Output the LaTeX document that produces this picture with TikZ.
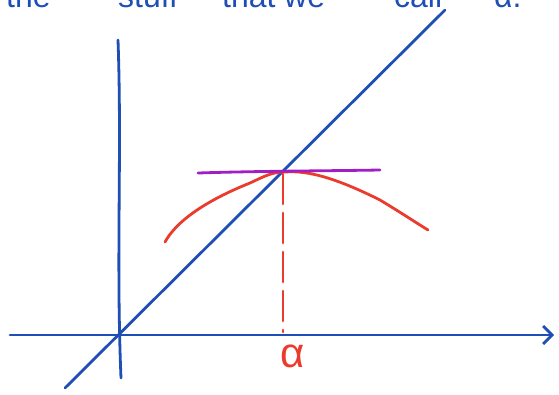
\documentclass[tikz,border=0pt]{standalone}
\usepackage{fontspec}
\setmainfont{Liberation Sans}
\usetikzlibrary{arrows.meta}
\definecolor{penblue}{HTML}{1F4FB5}
\definecolor{penred}{HTML}{EA3B2C}
\definecolor{penpurple}{HTML}{A31DC4}
\begin{document}
\begin{tikzpicture}[x=1pt,y=-1pt,
    ink/.style={line width=2.8pt,line cap=round,line join=round},
    axis/.style={ink,penblue},
    curve/.style={ink,penred},
    guide/.style={ink,penred,dash pattern=on 30pt off 9pt},
    word/.style={penblue,font=\fontsize{32}{34}\selectfont,anchor=base west,inner sep=0pt}]
  \useasboundingbox (0,0) rectangle (559,394);

  % caption, cut off at the top
  \node[word] (w1) at (6,7) {the};
  \node[word] (w2) at (118,7) {stuff};
  \node[word] (w3) at (222,7) {that};
  \node[word] (w4) at (284,7) {we};
  \node[word] (w5) at (394,7) {call};
  \node[word] (w6) at (494,7) {α.};

  % axes
  \coordinate (o) at (120,335);
  \draw[axis] (118,40) .. controls (122,150) and (116,260) .. (121,378);
  \draw[axis,-{Straight Barb[length=9pt,width=18pt,line width=2.8pt]}] (10,335) -- (554,335);
  \draw[axis] (65,388) -- (445,10);

  % tangent and curve at the fixed point
  \coordinate (peak) at (285,172);
  \draw[curve] (165,242) .. controls (180,215) and (220,195) .. (250,183)
    .. controls (265,176) and (272,172) .. (peak)
    .. controls (310,170) and (340,180) .. (380,200)
    .. controls (400,212) and (415,222) .. (428,230);
  \draw[ink,penpurple] (198,173) .. controls (260,171) and (320,171) .. (380,170);
  \draw[guide] (283,174) -- (283,332);
  \node[penred,font=\fontsize{42}{44}\selectfont] (alpha) at (293,356) {α};
\end{tikzpicture}
\end{document}
